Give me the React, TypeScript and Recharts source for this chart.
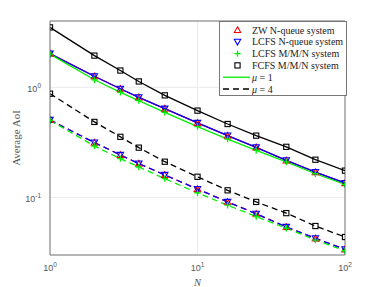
import {
  LineChart,
  Line,
  XAxis,
  YAxis,
  CartesianGrid,
  Legend,
  ReferenceLine,
  Label,
} from 'recharts'

// N values on the horizontal axis
const nValues = [1, 2, 3, 4, 6, 10, 16, 25, 40, 63, 100]

// mu = 1
const zwNQueue1 = [2.02, 1.26, 0.97, 0.81, 0.64, 0.475, 0.364, 0.285, 0.217, 0.17, 0.135]
const lcfsNQueue1 = [2.02, 1.26, 0.97, 0.81, 0.64, 0.475, 0.364, 0.285, 0.217, 0.17, 0.135]
const lcfsMMN1 = [2.0, 1.17, 0.9, 0.757, 0.593, 0.44, 0.339, 0.267, 0.21, 0.164, 0.131]
const fcfsMMN1 = [3.5, 1.94, 1.42, 1.13, 0.845, 0.614, 0.464, 0.364, 0.288, 0.22, 0.175]

// mu = 4
const zwNQueue4 = [0.505, 0.315, 0.243, 0.203, 0.16, 0.119, 0.091, 0.071, 0.054, 0.0425, 0.0338]
const lcfsNQueue4 = [0.505, 0.315, 0.243, 0.203, 0.16, 0.119, 0.091, 0.071, 0.054, 0.0425, 0.0338]
const lcfsMMN4 = [0.5, 0.293, 0.225, 0.189, 0.148, 0.11, 0.085, 0.067, 0.0525, 0.041, 0.0328]
const fcfsMMN4 = [0.875, 0.485, 0.355, 0.283, 0.211, 0.154, 0.116, 0.091, 0.072, 0.055, 0.0437]

const xTicks = [1, 10, 100]
const yTicks = [0.1, 1]
const xExp: Record<number, string> = { 1: '0', 10: '1', 100: '2' }
const yExp: Record<number, string> = { 0.1: '-1', 1: '0' }

const seriesNames = [
  'ZW N-queue system',
  'LCFS N-queue system',
  'LCFS M/M/N system',
  'FCFS M/M/N system',
]

const data = nValues.map((n, i) => ({
  n,
  zw1: zwNQueue1[i],
  lcfs1: lcfsNQueue1[i],
  mmn1: lcfsMMN1[i],
  fcfs1: fcfsMMN1[i],
  zw4: zwNQueue4[i],
  lcfs4: lcfsNQueue4[i],
  mmn4: lcfsMMN4[i],
  fcfs4: fcfsMMN4[i],
}))

const RED = '#ff0000'
const BLUE = '#0000ff'
const GREEN = '#00ee00'
const BLACK = '#000000'
const AXIS = '#777777'
const TEXT = '#555555'
const SERIF = 'Liberation Serif'
const SANS = 'Liberation Sans'

type Kind = 'up' | 'down' | 'plus' | 'square'

function marker(kind: Kind, cx: number, cy: number, color: string, key?: string | number) {
  const s = 3.2
  if (kind === 'up')
    return (
      <path key={key} d={`M${cx},${cy - s} L${cx + s},${cy + s * 0.8} L${cx - s},${cy + s * 0.8} Z`}
        fill="none" stroke={color} strokeWidth={1.1} />
    )
  if (kind === 'down')
    return (
      <path key={key} d={`M${cx},${cy + s} L${cx + s},${cy - s * 0.8} L${cx - s},${cy - s * 0.8} Z`}
        fill="none" stroke={color} strokeWidth={1.1} />
    )
  if (kind === 'plus')
    return (
      <path key={key} d={`M${cx - s},${cy} H${cx + s} M${cx},${cy - s} V${cy + s}`}
        fill="none" stroke={color} strokeWidth={1.3} />
    )
  return (
    <rect key={key} x={cx - 2.6} y={cy - 2.6} width={5.2} height={5.2}
      fill="none" stroke={color} strokeWidth={1.1} />
  )
}

const dotOf = (kind: Kind, color: string) => (p: any) =>
  marker(kind, p.cx, p.cy, color, `${kind}-${p.index}`)

const XTick = (p: any) => (
  <text x={p.x} y={p.y + 8} textAnchor="middle" fontFamily={SANS} fontSize={9} fill={TEXT}>
    10<tspan dy={-4} fontSize={6.5}>{xExp[p.payload.value]}</tspan>
  </text>
)

const YTick = (p: any) => (
  <text x={p.x - 1} y={p.y + 5} textAnchor="end" fontFamily={SANS} fontSize={9} fill={TEXT}>
    10<tspan dy={-4} fontSize={6.5}>{yExp[p.payload.value]}</tspan>
  </text>
)

const legendMarkers: { kind: Kind; color: string }[] = [
  { kind: 'up', color: RED },
  { kind: 'down', color: BLUE },
  { kind: 'plus', color: GREEN },
  { kind: 'square', color: BLACK },
]

function LegendBox() {
  const rowH = 11.8
  return (
    <div style={{ width: 126, height: 73, background: 'white', border: `1px solid ${AXIS}` }}>
      <svg width={126} height={73} style={{ display: 'block' }}>
        {seriesNames.map((name, i) => (
          <g key={name}>
            {marker(legendMarkers[i].kind, 17.5, 8 + i * rowH, legendMarkers[i].color)}
            <text x={32} y={8 + i * rowH + 3.5} fontFamily={SERIF} fontSize={10} fill="#222">
              {name}
            </text>
          </g>
        ))}
        <line x1={3} x2={30} y1={8 + 4 * rowH} y2={8 + 4 * rowH} stroke={GREEN} strokeWidth={1.3} />
        <text x={32} y={8 + 4 * rowH + 3.5} fontFamily={SERIF} fontSize={10} fill="#222">
          <tspan fontStyle="italic">μ</tspan> = 1
        </text>
        <line x1={3} x2={30} y1={8 + 5 * rowH} y2={8 + 5 * rowH} stroke={BLACK}
          strokeWidth={1.3} strokeDasharray="6 4" />
        <text x={32} y={8 + 5 * rowH + 3.5} fontFamily={SERIF} fontSize={10} fill="#222">
          <tspan fontStyle="italic">μ</tspan> = 4
        </text>
      </svg>
    </div>
  )
}

export default function App() {
  const lines: { key: string; color: string; kind: Kind; dashed: boolean }[] = [
    { key: 'zw1', color: RED, kind: 'up', dashed: false },
    { key: 'lcfs1', color: BLUE, kind: 'down', dashed: false },
    { key: 'mmn1', color: GREEN, kind: 'plus', dashed: false },
    { key: 'fcfs1', color: BLACK, kind: 'square', dashed: false },
    { key: 'zw4', color: RED, kind: 'up', dashed: true },
    { key: 'lcfs4', color: BLUE, kind: 'down', dashed: true },
    { key: 'mmn4', color: GREEN, kind: 'plus', dashed: true },
    { key: 'fcfs4', color: BLACK, kind: 'square', dashed: true },
  ]

  return (
    <div style={{ position: 'absolute', left: 0, top: 0, background: 'white' }}>
      <LineChart width={382} height={287} data={data}
        margin={{ top: 21, right: 37, bottom: 0, left: 0 }}>
        <CartesianGrid stroke="#ebebeb" />
        <XAxis dataKey="n" type="number" scale="log" domain={[1, 100]} ticks={xTicks}
          allowDataOverflow height={32} stroke={AXIS} tickLine={false} tick={<XTick />}>
          <Label value="N" position="insideBottom" offset={1} fontFamily={SERIF}
            fontStyle="italic" fontSize={10.5} fill={TEXT} />
        </XAxis>
        <YAxis type="number" scale="log" domain={[0.03, 4]} ticks={yTicks} allowDataOverflow
          width={50} stroke={AXIS} tickLine={false} tick={<YTick />}>
          <Label value="Average AoI" angle={-90} position="insideLeft" offset={16}
            style={{ textAnchor: 'middle' }} fontFamily={SERIF} fontSize={11} fill={TEXT} />
        </YAxis>
        <ReferenceLine y={4} stroke={AXIS} />
        <ReferenceLine x={100} stroke={AXIS} />
        {lines.map((l) => (
          <Line key={l.key} dataKey={l.key} stroke={l.color} strokeWidth={1.3}
            strokeDasharray={l.dashed ? '6 4' : undefined}
            dot={dotOf(l.kind, l.color)} activeDot={false} isAnimationActive={false} />
        ))}
        <Legend layout="vertical" align="center" verticalAlign="middle"
          wrapperStyle={{ top: 21, left: 219, width: 128 }} content={() => <LegendBox />} />
      </LineChart>
    </div>
  )
}
